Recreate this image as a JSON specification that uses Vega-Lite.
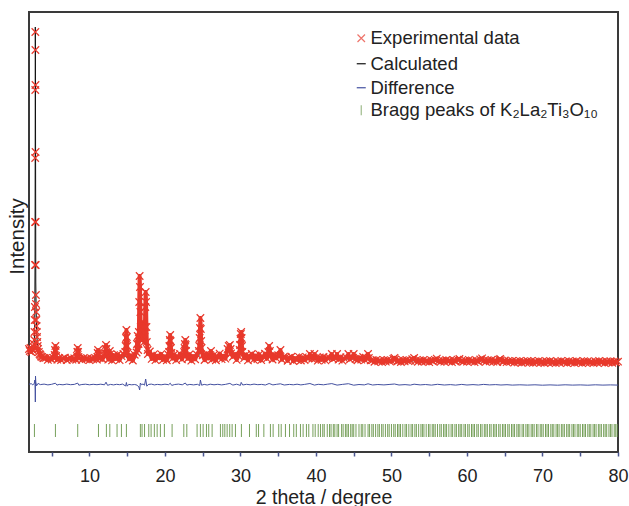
{
  "$schema": "https://vega.github.io/schema/vega-lite/v6.json",
  "width": 589,
  "height": 440,
  "autosize": {"type": "none"},
  "padding": {"left": 29, "top": 12, "right": 11, "bottom": 54},
  "background": "white",
  "config": {
    "view": {"stroke": "#3a3a3a", "strokeWidth": 2},
    "font": "Liberation Sans",
    "legend": {
      "orient": "none", "padding": 0, "title": null,
      "labelFont": "Liberation Sans", "labelFontSize": 18.5, "labelColor": "#222222",
      "symbolSize": 81, "symbolStrokeWidth": 1.2, "symbolFillColor": "transparent", "labelOffset": 0, "labelLimit": 400
    },
    "axisX": {
      "grid": false, "domain": false, "labelFlush": false, "labelOverlap": false,
      "tickColor": "#4a5690", "tickSize": 4, "tickWidth": 1.5,
      "labelFont": "Liberation Sans", "labelFontSize": 18, "labelColor": "#222222", "labelPadding": 11,
      "titleFont": "Liberation Sans", "titleFontSize": 19.5, "titleFontWeight": "normal", "titleColor": "#222222", "titlePadding": 3
    },
    "axisY": {
      "labels": false, "ticks": false, "domain": false, "grid": false,
      "titleFont": "Liberation Sans", "titleFontSize": 20.5, "titleFontWeight": "normal", "titleColor": "#222222", "titlePadding": 2, "titleY": 224
    }
  },
  "resolve": {"scale": {"color": "independent"}},
  "datasets": {
    "obs": [
      {"x":2.0,"y":103},{"x":2.1,"y":101},{"x":2.2,"y":104},{"x":2.3,"y":100},{"x":2.4,"y":103},{"x":2.5,"y":102},{"x":2.6,"y":105},{"x":2.65,"y":108},{"x":2.7,"y":112},{"x":2.73,"y":120},{"x":2.76,"y":132},{"x":2.78,"y":145},{"x":2.8,"y":187},{"x":2.81,"y":230},{"x":2.82,"y":294},{"x":2.83,"y":362},{"x":2.84,"y":420},{"x":2.85,"y":402},{"x":2.86,"y":367},{"x":2.87,"y":300},{"x":2.88,"y":230},{"x":2.89,"y":187},{"x":2.91,"y":157},{"x":2.93,"y":148},{"x":2.95,"y":140},{"x":2.97,"y":132},{"x":3.0,"y":126},{"x":3.03,"y":120},{"x":3.06,"y":115},{"x":3.1,"y":110},{"x":3.15,"y":106},{"x":3.2,"y":103},{"x":3.3,"y":100},{"x":3.4,"y":98},{"x":3.5,"y":97},{"x":3.6,"y":95.5},{"x":3.75,"y":95},{"x":3.9,"y":93.8},{"x":4.0,"y":94},
      {"x":4.25,"y":94.2},{"x":4.5,"y":92.1},{"x":4.75,"y":93.8},{"x":5.0,"y":92.5},{"x":5.25,"y":94.0},{"x":5.4,"y":97},{"x":5.45,"y":102},{"x":5.5,"y":106},{"x":5.55,"y":101},{"x":5.6,"y":96},{"x":5.75,"y":92.3},{"x":6.0,"y":93.9},{"x":6.25,"y":92.0},{"x":6.5,"y":93.5},{"x":6.75,"y":94.3},{"x":7.0,"y":91.9},{"x":7.25,"y":93.2},{"x":7.5,"y":94.1},{"x":7.75,"y":92.4},{"x":8.0,"y":93.6},{"x":8.25,"y":92.2},{"x":8.35,"y":96},{"x":8.4,"y":100},{"x":8.45,"y":104},{"x":8.5,"y":100},{"x":8.55,"y":95},{"x":8.75,"y":93.9},{"x":9.0,"y":92.1},{"x":9.25,"y":94.0},{"x":9.5,"y":92.8},{"x":9.75,"y":93.5},{"x":10.0,"y":91.8},{"x":10.25,"y":93.7},{"x":10.5,"y":92.6},{"x":10.75,"y":94.2},{"x":11.0,"y":92.3},{"x":11.05,"y":95},{"x":11.1,"y":99},{"x":11.15,"y":102},{"x":11.2,"y":98},{"x":11.25,"y":94},{"x":11.5,"y":93.8},{"x":11.75,"y":92.9},
      {"x":12.0,"y":96.1},{"x":12.1,"y":99},{"x":12.15,"y":103},{"x":12.2,"y":107},{"x":12.25,"y":103},{"x":12.3,"y":98},{"x":12.5,"y":92.4},{"x":12.7,"y":101},{"x":12.75,"y":97.8},{"x":13.0,"y":91.6},{"x":13.25,"y":96.9},{"x":13.5,"y":93.0},{"x":13.75,"y":97.5},{"x":14.0,"y":91.9},{"x":14.25,"y":95.8},{"x":14.5,"y":98.0},{"x":14.75,"y":100},{"x":14.8,"y":106},{"x":14.85,"y":114},{"x":14.9,"y":122},{"x":14.95,"y":115},{"x":15.0,"y":106},{"x":15.05,"y":99},{"x":15.25,"y":92.8},{"x":15.5,"y":96.7},{"x":15.75,"y":91.5},{"x":16.0,"y":97.2},{"x":16.25,"y":99.5},{"x":16.3,"y":108},{"x":16.4,"y":116},{"x":16.45,"y":102},{"x":16.5,"y":108},{"x":16.55,"y":120},{"x":16.6,"y":150},{"x":16.65,"y":176},{"x":16.7,"y":165},{"x":16.75,"y":140},{"x":16.8,"y":125},{"x":16.85,"y":118},{"x":16.9,"y":112},{"x":16.95,"y":120},{"x":17.0,"y":130},{"x":17.05,"y":125},{"x":17.1,"y":118},{"x":17.15,"y":128},{"x":17.2,"y":120},{"x":17.25,"y":110},{"x":17.3,"y":115},{"x":17.35,"y":125},{"x":17.4,"y":145},{"x":17.45,"y":160},{"x":17.5,"y":150},{"x":17.55,"y":125},{"x":17.6,"y":110},{"x":17.7,"y":102},{"x":17.75,"y":98.0},{"x":18.0,"y":100.5},{"x":18.25,"y":93.1},{"x":18.5,"y":97.4},{"x":18.75,"y":91.8},{"x":19.0,"y":96.3},{"x":19.25,"y":93.9},{"x":19.5,"y":97.9},{"x":19.75,"y":92.2},{"x":20.0,"y":95.6},{"x":20.25,"y":91.7},{"x":20.5,"y":97.0},{"x":20.55,"y":100},{"x":20.6,"y":106},{"x":20.65,"y":112},{"x":20.7,"y":117},{"x":20.75,"y":111},{"x":20.8,"y":104},{"x":20.85,"y":99},{"x":21.0,"y":93.4},{"x":21.25,"y":97.6},{"x":21.5,"y":91.9},{"x":21.75,"y":95.3},{"x":22.0,"y":98.1},{"x":22.25,"y":92.6},{"x":22.5,"y":96.4},{"x":22.55,"y":100},{"x":22.6,"y":104},{"x":22.65,"y":108},{"x":22.7,"y":112},{"x":22.75,"y":107},{"x":22.8,"y":101},{"x":23.0,"y":93.2},{"x":23.25,"y":97.7},{"x":23.5,"y":91.4},{"x":23.75,"y":95.9},{"x":24.0,"y":92.7},{"x":24.25,"y":97.3},{"x":24.5,"y":101},{"x":24.55,"y":106},{"x":24.6,"y":114},{"x":24.65,"y":124},{"x":24.7,"y":134},{"x":24.75,"y":123},{"x":24.8,"y":111},{"x":24.85,"y":104},{"x":25.0,"y":96.6},{"x":25.25,"y":92.0},{"x":25.5,"y":98.2},{"x":25.75,"y":93.6},{"x":26.0,"y":96.9},{"x":26.1,"y":101},{"x":26.25,"y":92.5},{"x":26.5,"y":97.1},{"x":26.75,"y":91.7},{"x":27.0,"y":95.5},{"x":27.25,"y":98.4},{"x":27.5,"y":92.9},{"x":27.75,"y":96.2},{"x":28.0,"y":93.3},{"x":28.3,"y":103},{"x":28.45,"y":106},{"x":28.6,"y":107},{"x":28.7,"y":103},{"x":28.75,"y":98.5},{"x":29.0,"y":95.2},{"x":29.25,"y":97.7},{"x":29.5,"y":92.1},{"x":29.75,"y":96.0},{"x":29.9,"y":102},{"x":29.95,"y":107},{"x":30.0,"y":113},{"x":30.05,"y":118},{"x":30.1,"y":120},{"x":30.15,"y":114},{"x":30.2,"y":106},{"x":30.25,"y":100},{"x":30.5,"y":93.8},{"x":30.75,"y":97.4},{"x":31.0,"y":91.6},{"x":31.25,"y":95.7},{"x":31.5,"y":98.0},{"x":31.75,"y":92.3},{"x":32.0,"y":96.5},{"x":32.25,"y":93.0},{"x":32.5,"y":97.6},{"x":32.75,"y":91.9},{"x":33.0,"y":95.1},{"x":33.25,"y":98.3},{"x":33.5,"y":93.4},{"x":33.7,"y":100},{"x":33.8,"y":106},{"x":33.9,"y":101},{"x":34.0,"y":96.2},{"x":34.25,"y":92.5},{"x":34.5,"y":97.0},{"x":34.75,"y":93.7},{"x":35.0,"y":96.8},{"x":35.3,"y":102},{"x":35.5,"y":92.2},{"x":35.75,"y":95.4},
      {"x":36.0,"y":94.8},{"x":36.25,"y":91.2},{"x":36.5,"y":94.1},{"x":36.75,"y":95.3},{"x":37.0,"y":91.0},{"x":37.25,"y":93.9},{"x":37.5,"y":92.2},{"x":37.75,"y":95.1},{"x":38.0,"y":91.5},{"x":38.25,"y":94.6},{"x":38.5,"y":92.0},{"x":38.75,"y":94.9},{"x":39.0,"y":93.5},{"x":39.2,"y":98},{"x":39.5,"y":93.2},{"x":39.8,"y":98},{"x":40.0,"y":94.0},{"x":40.25,"y":91.3},{"x":40.5,"y":94.7},{"x":40.75,"y":92.1},{"x":41.0,"y":95.0},{"x":41.25,"y":91.6},{"x":41.5,"y":93.8},{"x":41.75,"y":94.5},{"x":42.1,"y":98},{"x":42.25,"y":93.0},{"x":42.5,"y":94.2},{"x":42.8,"y":98},{"x":43.0,"y":92.4},{"x":43.25,"y":94.8},{"x":43.5,"y":91.4},{"x":43.75,"y":93.6},{"x":44.0,"y":94.6},{"x":44.3,"y":98},{"x":44.5,"y":92.6},{"x":44.75,"y":94.4},{"x":45.0,"y":98},{"x":45.25,"y":93.0},{"x":45.5,"y":91.7},{"x":45.75,"y":94.3},{"x":46.0,"y":92.3},{"x":46.25,"y":95.0},{"x":46.5,"y":91.9},{"x":46.75,"y":93.7},{"x":46.9,"y":98},{"x":47.0,"y":94},{"x":47.25,"y":91.6},
      {"x":47.5,"y":91.8},{"x":47.75,"y":90.2},{"x":48.0,"y":92.1},{"x":48.25,"y":90.6},{"x":48.5,"y":91.5},{"x":48.75,"y":89.9},{"x":49.0,"y":91.9},{"x":49.25,"y":90.4},{"x":49.5,"y":92.0},{"x":49.75,"y":90.8},{"x":50.0,"y":91.3},{"x":50.25,"y":93.2},{"x":50.4,"y":94.2},{"x":50.5,"y":92.5},{"x":50.75,"y":90.3},{"x":51.0,"y":91.7},{"x":51.25,"y":90.0},{"x":51.5,"y":91.9},{"x":51.75,"y":90.6},{"x":52.0,"y":92.0},{"x":52.25,"y":90.9},{"x":52.5,"y":91.4},{"x":52.75,"y":92.8},{"x":53.0,"y":94.0},{"x":53.25,"y":91.6},{"x":53.5,"y":90.2},{"x":53.75,"y":91.8},{"x":54.0,"y":90.5},{"x":54.25,"y":92.1},{"x":54.5,"y":90.7},{"x":54.75,"y":91.2},{"x":55.0,"y":89.8},{"x":55.25,"y":91.9},{"x":55.5,"y":90.6},{"x":55.75,"y":92.2},{"x":56.0,"y":93.4},{"x":56.25,"y":91.2},{"x":56.5,"y":90.1},{"x":56.75,"y":91.7},{"x":57.0,"y":90.4},{"x":57.25,"y":92.0},{"x":57.5,"y":90.9},{"x":57.75,"y":91.3},{"x":58.0,"y":89.9},{"x":58.25,"y":91.8},{"x":58.5,"y":90.5},{"x":58.75,"y":92.4},{"x":59.0,"y":93.0},{"x":59.25,"y":91.0},{"x":59.5,"y":90.2},{"x":59.75,"y":91.6},{"x":60.0,"y":90.3},{"x":60.25,"y":92.1},{"x":60.5,"y":90.8},{"x":60.75,"y":91.1},{"x":61.0,"y":89.8},{"x":61.25,"y":91.7},{"x":61.5,"y":90.4},{"x":61.75,"y":92.5},{"x":62.0,"y":93.6},{"x":62.25,"y":91.5},{"x":62.5,"y":90.1},{"x":62.75,"y":91.8},{"x":63.0,"y":90.6},{"x":63.25,"y":92.0},{"x":63.5,"y":90.3},{"x":63.75,"y":91.4},{"x":64.0,"y":90.0},{"x":64.25,"y":92.3},{"x":64.4,"y":93.0},{"x":64.5,"y":91.6},{"x":64.75,"y":90.2},{"x":65.0,"y":91.5},{"x":65.25,"y":89.9},{"x":65.5,"y":91.2},{"x":65.75,"y":90.4},{"x":66.0,"y":91.0},{"x":66.25,"y":89.3},{"x":66.5,"y":90.8},{"x":66.75,"y":89.6},{"x":67.0,"y":91.1},{"x":67.25,"y":89.2},{"x":67.5,"y":90.6},{"x":67.75,"y":89.8},{"x":68.0,"y":91.0},{"x":68.25,"y":89.4},{"x":68.5,"y":90.9},{"x":68.75,"y":89.1},{"x":69.0,"y":90.5},{"x":69.25,"y":89.7},{"x":69.5,"y":91.2},{"x":69.75,"y":89.3},{"x":70.0,"y":90.4},{"x":70.25,"y":89.0},{"x":70.5,"y":90.8},{"x":70.75,"y":89.6},{"x":71.0,"y":91.0},{"x":71.25,"y":89.5},{"x":71.5,"y":90.2},{"x":71.75,"y":88.9},{"x":72.0,"y":90.7},{"x":72.25,"y":89.4},{"x":72.5,"y":91.1},{"x":72.75,"y":89.8},{"x":73.0,"y":90.3},{"x":73.25,"y":88.9},{"x":73.5,"y":90.9},{"x":73.75,"y":89.5},{"x":74.0,"y":90.6},{"x":74.25,"y":89.1},{"x":74.5,"y":91.0},{"x":74.75,"y":89.7},{"x":75.0,"y":90.2},{"x":75.25,"y":88.8},{"x":75.5,"y":90.8},{"x":75.75,"y":89.4},{"x":76.0,"y":90.9},{"x":76.25,"y":89.6},{"x":76.5,"y":90.1},{"x":76.75,"y":89.0},{"x":77.0,"y":90.7},{"x":77.25,"y":89.3},{"x":77.5,"y":91.0},{"x":77.75,"y":89.8},{"x":78.0,"y":90.4},{"x":78.25,"y":88.9},{"x":78.5,"y":90.6},{"x":78.75,"y":89.5},{"x":79.0,"y":90.8},{"x":79.25,"y":89.2},{"x":79.5,"y":90.5},{"x":79.75,"y":89.7},{"x":80.0,"y":90.3}
    ],
    "calc": [
      {"x":2.0,"y":102},{"x":2.3,"y":101.5},{"x":2.6,"y":104},{"x":2.7,"y":110},{"x":2.76,"y":128},{"x":2.8,"y":190},{"x":2.82,"y":300},{"x":2.835,"y":425},{"x":2.85,"y":400},{"x":2.87,"y":300},{"x":2.9,"y":170},{"x":2.95,"y":140},{"x":3.0,"y":124},{"x":3.1,"y":108},{"x":3.2,"y":102},{"x":3.4,"y":97.5},{"x":3.8,"y":95},{"x":4.2,"y":93.5},{"x":5.3,"y":93.2},{"x":5.4,"y":96},{"x":5.5,"y":105},{"x":5.6,"y":96},{"x":5.7,"y":93.2},{"x":8.3,"y":93.1},{"x":8.4,"y":97},{"x":8.45,"y":103},{"x":8.5,"y":98},{"x":8.6,"y":93},{"x":11.0,"y":93},{"x":11.1,"y":97},{"x":11.15,"y":101},{"x":11.2,"y":97},{"x":11.3,"y":93.5},{"x":12.0,"y":94.5},{"x":12.1,"y":98},{"x":12.2,"y":106},{"x":12.3,"y":98},{"x":12.4,"y":94.5},{"x":12.6,"y":95},{"x":12.7,"y":100},{"x":12.8,"y":95},{"x":14.7,"y":95},{"x":14.8,"y":104},{"x":14.9,"y":124},{"x":15.0,"y":105},{"x":15.1,"y":95.5},{"x":16.2,"y":96},{"x":16.3,"y":105},{"x":16.4,"y":112},{"x":16.5,"y":106},{"x":16.55,"y":118},{"x":16.6,"y":148},{"x":16.65,"y":178},{"x":16.7,"y":162},{"x":16.75,"y":138},{"x":16.85,"y":116},{"x":16.95,"y":118},{"x":17.0,"y":128},{"x":17.05,"y":122},{"x":17.1,"y":117},{"x":17.15,"y":126},{"x":17.2,"y":118},{"x":17.3,"y":114},{"x":17.4,"y":143},{"x":17.45,"y":162},{"x":17.5,"y":148},{"x":17.6,"y":108},{"x":17.7,"y":100},{"x":17.9,"y":96},{"x":18.0,"y":99},{"x":18.1,"y":95.5},{"x":20.5,"y":95},{"x":20.6,"y":104},{"x":20.7,"y":118},{"x":20.8,"y":103},{"x":20.9,"y":95},{"x":22.5,"y":95},{"x":22.6,"y":103},{"x":22.7,"y":113},{"x":22.8,"y":100},{"x":22.9,"y":95},{"x":24.5,"y":95.5},{"x":24.6,"y":112},{"x":24.7,"y":136},{"x":24.8,"y":110},{"x":24.9,"y":96},{"x":26.0,"y":95},{"x":26.1,"y":100},{"x":26.2,"y":95},{"x":28.2,"y":95},{"x":28.45,"y":105},{"x":28.6,"y":106},{"x":28.75,"y":96},{"x":29.8,"y":95},{"x":30.0,"y":112},{"x":30.1,"y":121},{"x":30.2,"y":104},{"x":30.3,"y":95.5},{"x":33.6,"y":95},{"x":33.8,"y":105},{"x":34.0,"y":95},{"x":35.2,"y":94.5},{"x":35.3,"y":101},{"x":35.4,"y":94.5},{"x":36.0,"y":93.5},{"x":39.1,"y":93},{"x":39.2,"y":97},{"x":39.3,"y":93},{"x":39.7,"y":93},{"x":39.8,"y":97},{"x":39.9,"y":93},{"x":42.0,"y":93},{"x":42.1,"y":97},{"x":42.2,"y":93},{"x":42.7,"y":93},{"x":42.8,"y":97},{"x":42.9,"y":93},{"x":44.2,"y":93},{"x":44.3,"y":97},{"x":44.4,"y":93},{"x":44.9,"y":93},{"x":45.0,"y":97},{"x":45.1,"y":93},{"x":46.8,"y":93},{"x":46.9,"y":97},{"x":47.0,"y":92.5},{"x":48.0,"y":91.5},{"x":50.3,"y":91.2},{"x":50.4,"y":93.8},{"x":50.5,"y":91.2},{"x":52.9,"y":91},{"x":53.0,"y":93.5},{"x":53.1,"y":91},{"x":56.0,"y":91},{"x":56.1,"y":93},{"x":56.2,"y":91},{"x":58.9,"y":91},{"x":59.0,"y":92.8},{"x":59.1,"y":91},{"x":61.9,"y":91},{"x":62.0,"y":93.2},{"x":62.1,"y":90.8},{"x":64.3,"y":90.8},{"x":64.4,"y":92.6},{"x":64.5,"y":90.5},{"x":66.0,"y":90.2},{"x":80.0,"y":90}
    ],
    "diff": [
      {"x":2.0,"y":67.8},{"x":2.3,"y":68.3},{"x":2.5,"y":67.2},{"x":2.7,"y":68.5},{"x":2.78,"y":72},{"x":2.82,"y":62},{"x":2.84,"y":50},{"x":2.86,"y":76},{"x":2.9,"y":70},{"x":3.0,"y":66.2},{"x":3.2,"y":68.6},{"x":3.5,"y":67.4},{"x":4.0,"y":67.9},{"x":4.5,"y":67.1},{"x":5.0,"y":67.7},{"x":5.5,"y":68.8},{"x":5.7,"y":66.9},{"x":6.0,"y":67.6},{"x":6.5,"y":67.2},{"x":7.0,"y":67.9},{"x":7.5,"y":67.3},{"x":8.0,"y":67.6},{"x":8.45,"y":68.9},{"x":8.6,"y":66.8},{"x":9.0,"y":67.5},{"x":9.5,"y":67.8},{"x":10.0,"y":67.2},{"x":10.5,"y":67.7},{"x":11.0,"y":67.3},{"x":11.5,"y":67.8},{"x":12.0,"y":67.2},{"x":12.2,"y":69.8},{"x":12.4,"y":66.7},{"x":12.8,"y":67.6},{"x":13.2,"y":67.1},{"x":13.6,"y":67.7},{"x":14.0,"y":67.3},{"x":14.4,"y":67.9},{"x":14.8,"y":66.0},{"x":14.9,"y":69.5},{"x":15.0,"y":65.8},{"x":15.2,"y":67.6},{"x":15.6,"y":67.2},{"x":16.0,"y":67.5},{"x":16.3,"y":66.9},{"x":16.55,"y":65},{"x":16.65,"y":62},{"x":16.75,"y":69},{"x":16.9,"y":67.3},{"x":17.1,"y":68.0},{"x":17.3,"y":66.8},{"x":17.45,"y":73},{"x":17.6,"y":65.8},{"x":17.8,"y":67.5},{"x":18.2,"y":67.9},{"x":18.6,"y":67.1},{"x":19.0,"y":67.6},{"x":19.5,"y":67.2},{"x":20.0,"y":67.8},{"x":20.5,"y":67.3},{"x":20.7,"y":68.8},{"x":20.9,"y":66.6},{"x":21.3,"y":67.5},{"x":21.8,"y":67.9},{"x":22.3,"y":67.2},{"x":22.7,"y":69},{"x":22.9,"y":66.9},{"x":23.3,"y":67.6},{"x":23.8,"y":67.1},{"x":24.3,"y":67.7},{"x":24.6,"y":66.5},{"x":24.7,"y":72},{"x":24.85,"y":66.8},{"x":25.2,"y":67.6},{"x":25.6,"y":67.0},{"x":26.0,"y":67.8},{"x":26.5,"y":67.2},{"x":27.0,"y":67.7},{"x":27.5,"y":67.1},{"x":28.0,"y":67.6},{"x":28.6,"y":68.6},{"x":29.0,"y":66.9},{"x":29.5,"y":67.8},{"x":30.0,"y":66.6},{"x":30.1,"y":69.6},{"x":30.3,"y":67.0},{"x":30.8,"y":67.7},{"x":31.3,"y":67.2},{"x":31.8,"y":67.9},{"x":32.3,"y":67.3},{"x":32.8,"y":67.6},{"x":33.3,"y":67.0},{"x":33.8,"y":68.5},{"x":34.3,"y":67.1},{"x":34.8,"y":67.7},{"x":35.3,"y":68.2},{"x":35.8,"y":67.0},{"x":36.5,"y":67.6},{"x":37.0,"y":67.2},{"x":37.5,"y":67.8},{"x":38.0,"y":67.1},{"x":38.5,"y":67.6},{"x":39.2,"y":68.5},{"x":39.8,"y":66.9},{"x":40.3,"y":67.7},{"x":41.0,"y":67.2},{"x":41.5,"y":67.8},{"x":42.1,"y":68.4},{"x":42.8,"y":66.9},{"x":43.5,"y":67.6},{"x":44.3,"y":68.3},{"x":45.0,"y":66.8},{"x":45.7,"y":67.5},{"x":46.4,"y":67.1},{"x":46.9,"y":68.2},{"x":47.5,"y":67.0},{"x":48.2,"y":67.5},{"x":49.0,"y":67.1},{"x":49.8,"y":67.6},{"x":50.4,"y":68.0},{"x":51.0,"y":67.0},{"x":51.8,"y":67.4},{"x":52.5,"y":66.9},{"x":53.0,"y":67.8},{"x":53.8,"y":67.1},{"x":54.5,"y":67.5},{"x":55.3,"y":66.9},{"x":56.1,"y":67.7},{"x":57.0,"y":67.0},{"x":57.8,"y":67.4},{"x":58.5,"y":66.9},{"x":59.3,"y":67.6},{"x":60.0,"y":67.0},{"x":60.8,"y":67.4},{"x":61.5,"y":67.0},{"x":62.2,"y":67.6},{"x":63.0,"y":67.1},{"x":63.8,"y":67.4},{"x":64.5,"y":67.0},{"x":65.3,"y":67.3},{"x":66.0,"y":66.9},{"x":67.0,"y":67.2},{"x":68.0,"y":66.9},{"x":69.0,"y":67.2},{"x":70.0,"y":66.8},{"x":71.0,"y":67.1},{"x":72.0,"y":66.8},{"x":73.0,"y":67.2},{"x":74.0,"y":66.9},{"x":75.0,"y":67.1},{"x":76.0,"y":66.8},{"x":77.0,"y":67.2},{"x":78.0,"y":66.9},{"x":79.0,"y":67.1},{"x":80.0,"y":66.9}
    ],
    "bragg": [
      {"x":2.72},{"x":5.5},{"x":8.45},{"x":11.2},{"x":12.25},{"x":12.7},{"x":13.66},{"x":14.24},{"x":14.9},{"x":16.75},{"x":16.97},{"x":17.3},{"x":17.86},{"x":18.17},{"x":18.6},{"x":18.97},{"x":19.4},{"x":19.93},{"x":20.95},{"x":22.5},{"x":22.9},{"x":24.26},{"x":24.7},{"x":25.06},{"x":25.5},{"x":25.8},{"x":26.25},{"x":27.35},{"x":27.66},{"x":27.93},{"x":28.24},{"x":28.58},{"x":28.9},{"x":29.34},{"x":30.13},{"x":31.2},{"x":32.1},{"x":32.4},{"x":33.1},{"x":33.97},{"x":34.33},{"x":35.07},{"x":35.4},{"x":35.96},{"x":36.5},{"x":37.06},{"x":37.4},{"x":37.95},{"x":38.3},{"x":38.74},{"x":39.05},{"x":39.6},{"x":39.9},
      {"x":40.3},{"x":40.6},{"x":40.9},{"x":41.1},{"x":41.5},{"x":41.8},{"x":42.0},{"x":42.3},{"x":42.5},{"x":42.8},{"x":43.0},{"x":43.4},{"x":43.6},{"x":43.9},{"x":44.1},{"x":44.3},{"x":44.6},{"x":44.8},{"x":45.0},{"x":45.3},{"x":45.7},{"x":46.0},{"x":46.2},{"x":46.5},{"x":46.9},{"x":47.1},{"x":47.4},{"x":47.6},{"x":47.9},{"x":48.2},{"x":48.4},{"x":48.7},{"x":48.9},{"x":49.2},{"x":49.5},{"x":49.7},{"x":50.0},{"x":50.3},{"x":50.5},{"x":50.8},{"x":51.0},{"x":51.2},{"x":51.5},{"x":51.8},{"x":52.0},{"x":52.3},{"x":52.6},{"x":52.8},{"x":53.1},{"x":53.3},{"x":53.6},{"x":53.9},{"x":54.1},{"x":54.3},{"x":54.6},{"x":54.9},{"x":55.1},{"x":55.4},{"x":55.6},{"x":55.8},{"x":56.1},{"x":56.4},{"x":56.6},{"x":56.9},{"x":57.1},{"x":57.3},{"x":57.6},{"x":57.9},{"x":58.1},{"x":58.4},{"x":58.6},{"x":58.9},{"x":59.1},{"x":59.3},{"x":59.6},{"x":59.8},{"x":60.1},{"x":60.3},{"x":60.6},{"x":60.8},{"x":61.0},{"x":61.3},{"x":61.5},{"x":61.8},{"x":62.0},{"x":62.3},{"x":62.5},{"x":62.7},{"x":63.0},{"x":63.2},{"x":63.5},{"x":63.7},{"x":63.9},{"x":64.2},{"x":64.4},{"x":64.7},{"x":64.9},{"x":65.1},{"x":65.4},{"x":65.6},{"x":65.9},{"x":66.1},{"x":66.3},{"x":66.6},{"x":66.8},{"x":67.0},{"x":67.3},{"x":67.5},{"x":67.8},{"x":68.0},{"x":68.2},{"x":68.5},{"x":68.7},{"x":68.9},{"x":69.2},{"x":69.4},{"x":69.7},{"x":69.9},{"x":70.1},{"x":70.4},{"x":70.6},{"x":70.8},{"x":71.1},{"x":71.3},{"x":71.5},{"x":71.8},{"x":72.0},{"x":72.2},{"x":72.5},{"x":72.7},{"x":72.9},{"x":73.2},{"x":73.4},{"x":73.6},{"x":73.9},{"x":74.1},{"x":74.3},{"x":74.6},{"x":74.8},{"x":75.0},{"x":75.3},{"x":75.5},{"x":75.7},{"x":76.0},{"x":76.2},{"x":76.4},{"x":76.7},{"x":76.9},{"x":77.1},{"x":77.4},{"x":77.6},{"x":77.8},{"x":78.1},{"x":78.3},{"x":78.5},{"x":78.8},{"x":79.0},{"x":79.2},{"x":79.5},{"x":79.7},{"x":79.9}
    ]
  },
  "encoding": {
    "x": {
      "field": "x", "type": "quantitative",
      "scale": {"domain": [2, 80], "nice": false, "zero": false},
      "title": "2 theta / degree",
      "axis": {
        "values": [5,10,15,20,25,30,35,40,45,50,55,60,65,70,75,80],
        "labelExpr": "datum.value % 10 === 0 ? datum.label : ''"
      }
    }
  },
  "layer": [
    {
      "data": {"name": "diff"},
      "mark": {"type": "line", "strokeWidth": 1},
      "encoding": {
        "y": {
          "field": "y", "type": "quantitative",
          "scale": {"domain": [0, 440], "nice": false, "zero": false},
          "title": "Intensity"
        },
        "color": {
          "datum": "Difference", "type": "nominal",
          "scale": {"range": ["#4350a0"]},
          "legend": {"orient": "none", "legendX": 323, "legendY": 66.5, "symbolType": "M-1,0L1,0", "title": null}
        }
      }
    },
    {
      "data": {"name": "bragg"},
      "mark": {"type": "rule", "strokeWidth": 1, "opacity": 0.85},
      "encoding": {
        "y": {"datum": 15, "type": "quantitative", "title": "Intensity"},
        "y2": {"datum": 28},
        "color": {
          "datum": "Bragg peaks of K₂La₂Ti₃O₁₀", "type": "nominal",
          "scale": {"range": ["#5f8f3e"]},
          "legend": {"orient": "none", "legendX": 323, "legendY": 89, "symbolType": "M0,-1.1L0,1.1", "title": null, "symbolOpacity": 0.6}
        }
      }
    },
    {
      "data": {"name": "calc"},
      "mark": {"type": "line", "strokeWidth": 1},
      "encoding": {
        "y": {"field": "y", "type": "quantitative", "title": "Intensity"},
        "color": {
          "datum": "Calculated", "type": "nominal",
          "scale": {"range": ["#111111"]},
          "legend": {"orient": "none", "legendX": 323, "legendY": 42.5, "symbolType": "M-1,0L1,0", "title": null}
        }
      }
    },
    {
      "data": {"name": "obs"},
      "transform": [{"filter": "datum.x > 3.2 || datum.y < 106"}],
      "mark": {"type": "line", "strokeWidth": 4, "color": "#e8392c", "strokeJoin": "round"},
      "encoding": {
        "y": {"field": "y", "type": "quantitative", "title": "Intensity"}
      }
    },
    {
      "data": {"name": "obs"},
      "mark": {"type": "point", "shape": "M-1,-1L1,1M1,-1L-1,1", "filled": false, "size": 56, "strokeWidth": 1.2, "opacity": 1},
      "encoding": {
        "y": {"field": "y", "type": "quantitative", "title": "Intensity"},
        "color": {
          "datum": "Experimental data", "type": "nominal",
          "scale": {"range": ["#e8392c"]},
          "legend": {"orient": "none", "legendX": 323, "legendY": 17, "symbolType": "M-1,-1L1,1M1,-1L-1,1", "title": null, "symbolOpacity": 0.7, "symbolSize": 56}
        }
      }
    }
  ]
}
